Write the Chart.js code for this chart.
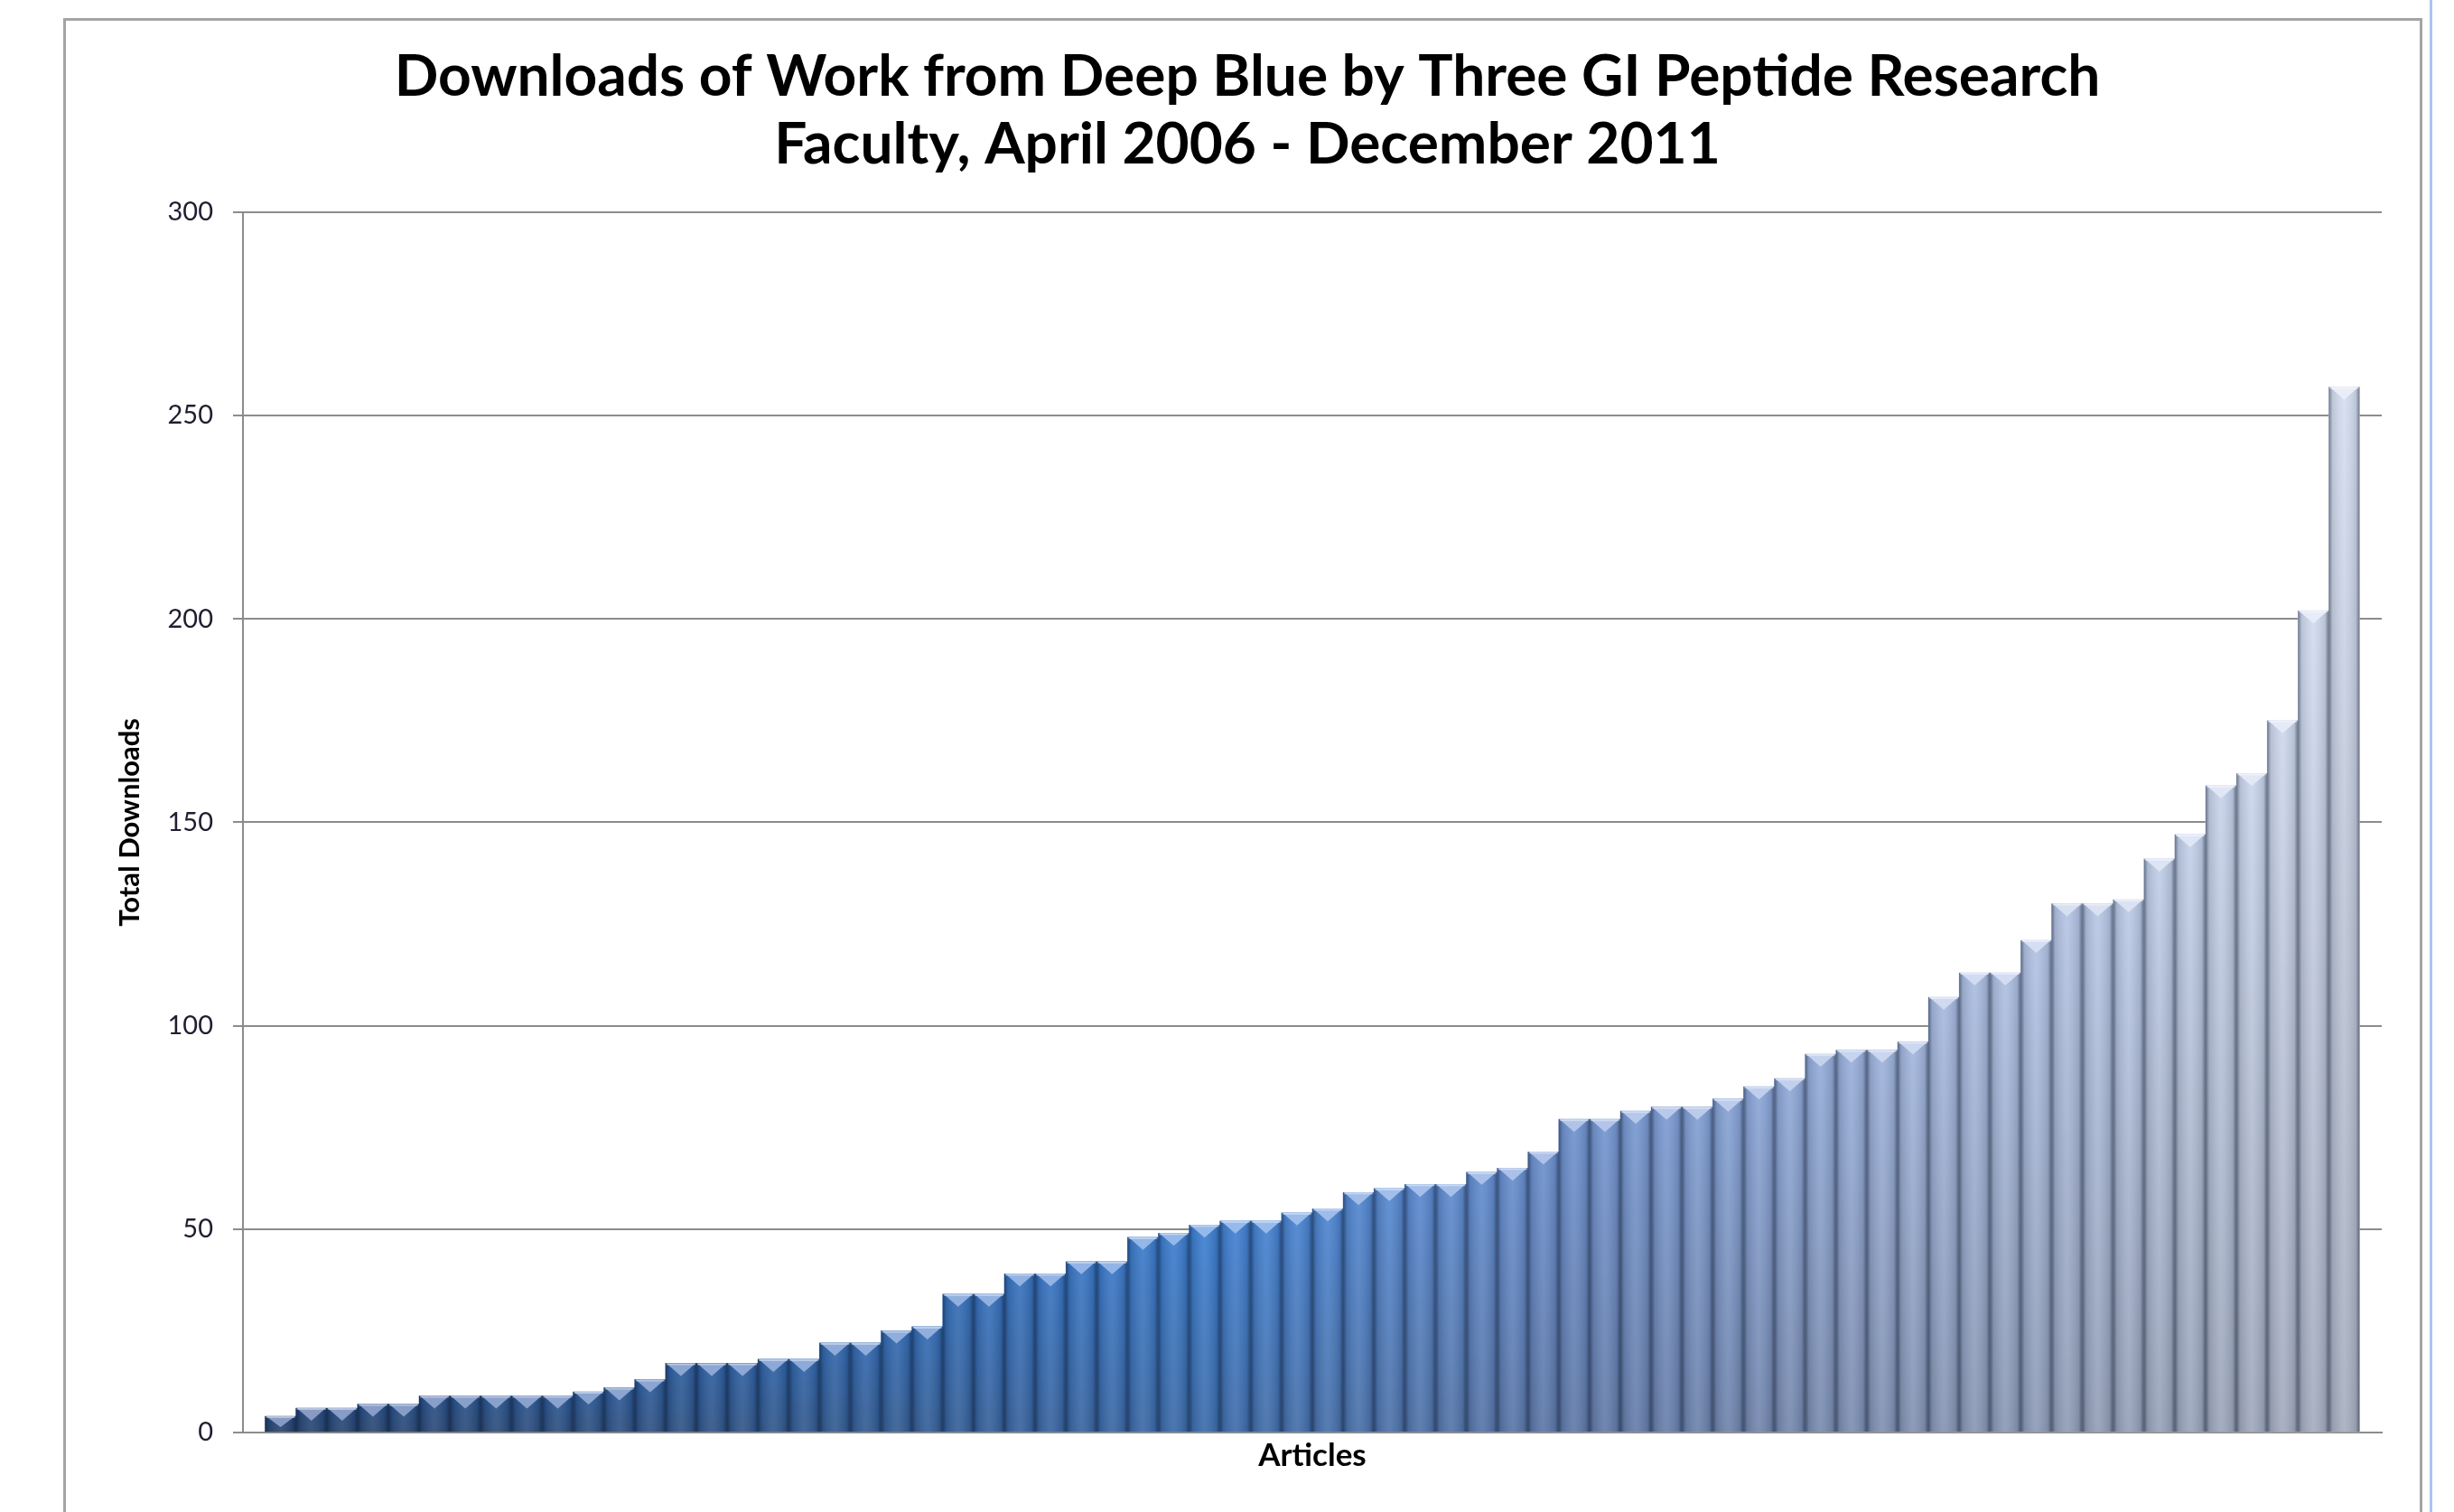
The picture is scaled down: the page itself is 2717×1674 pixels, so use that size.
<!DOCTYPE html>
<html>
<head>
    <title>Downloads of Work from Deep Blue</title>
    <script src="https://cdn.jsdelivr.net/npm/chart.js"></script>
    <style>
        html, body { margin: 0; padding: 0; background: #fff; width: 2717px; height: 1674px; overflow: hidden; }
        #frame { position: absolute; left: 70px; top: 20px; width: 2606px; height: 1700px;
                 border-left: 3px solid #a4a4a4; border-top: 3px solid #a4a4a4; border-right: 3px solid #a4a4a4; }
        #edge { position: absolute; left: 2690px; top: 0; width: 3px; height: 1674px; background: #a9c6ee; }
        #chart { position: absolute; left: 125px; top: 23px; }
    </style>
</head>
<body>
    <div id="frame"></div>
    <div id="edge"></div>
    <canvas id="chart" width="2554" height="1651"></canvas>

    <script>
        // total downloads per article, sorted ascending (68 articles)
        var downloads = [
            4, 6, 6, 7, 7, 9, 9, 9, 9, 9,
            10, 11, 13, 17, 17, 17, 18, 18, 22, 22,
            25, 26, 34, 34, 39, 39, 42, 42, 48, 49,
            51, 52, 52, 54, 55, 59, 60, 61, 61, 64,
            65, 69, 77, 77, 79, 80, 80, 82, 85, 87,
            93, 94, 94, 96, 107, 113, 113, 121, 130, 130,
            131, 141, 147, 159, 162, 175, 202, 257
        ];
        var titleLines = ['Downloads of Work from Deep Blue by Three GI Peptide Research', 'Faculty, April 2006 - December 2011'];
        var yTitle = 'Total Downloads';
        var xTitle = 'Articles';

        // left to right colour ramp of the bars (dark navy -> blue -> pale grey blue)
        var ramp = [
            [0.00, [36, 72, 124]],
            [0.25, [48, 100, 168]],
            [0.45, [62, 128, 210]],
            [0.62, [110, 145, 206]],
            [0.80, [166, 185, 222]],
            [1.00, [214, 223, 240]]
        ];
        function rampColor(t) {
            for (var k = 1; k < ramp.length; k++) {
                if (t <= ramp[k][0]) {
                    var a = ramp[k - 1], b = ramp[k];
                    var f = (t - a[0]) / (b[0] - a[0]);
                    return a[1].map(function(v, j) { return Math.round(v + (b[1][j] - v) * f); });
                }
            }
            return ramp[ramp.length - 1][1];
        }
        var barRgb = downloads.map(function(_, i) { return rampColor(i / (downloads.length - 1)); });
        var barColors = barRgb.map(function(c) { return 'rgb(' + c.join(',') + ')'; });

        // bevel look: dark edges, darker base, light chevron on top
        var bevel = {
            id: 'bevel',
            afterDatasetDraw: function(chart, args) {
                var c = chart.ctx;
                args.meta.data.forEach(function(bar, i) {
                    var p = bar.getProps(['x', 'y', 'base', 'width'], true);
                    var l = p.x - p.width / 2, r = p.x + p.width / 2, h = p.base - p.y;
                    c.save();
                    var g = c.createLinearGradient(0, p.y, 0, p.base);
                    g.addColorStop(0, 'rgba(60,64,78,0)');
                    g.addColorStop(1, 'rgba(60,64,78,0.3)');
                    c.fillStyle = g;
                    c.fillRect(l, p.y, p.width, h);

                    g = c.createLinearGradient(l, 0, r, 0);
                    g.addColorStop(0, 'rgba(10,20,40,0.5)');
                    g.addColorStop(0.12, 'rgba(10,20,40,0.12)');
                    g.addColorStop(0.5, 'rgba(255,255,255,0.08)');
                    g.addColorStop(0.88, 'rgba(10,20,40,0.12)');
                    g.addColorStop(1, 'rgba(10,20,40,0.5)');
                    c.fillStyle = g;
                    c.fillRect(l, p.y, p.width, h);

                    var ch = Math.min(14, h * 0.7);
                    var base = barRgb[i];
                    var lite = base.map(function(v, j) { return Math.round(v + (255 - v) * (j === 2 ? 0.55 : 0.45)); });
                    c.beginPath();
                    c.moveTo(l + 1, p.y);
                    c.lineTo(r - 1, p.y);
                    c.lineTo(p.x, p.y + ch);
                    c.closePath();
                    c.fillStyle = 'rgb(' + lite.join(',') + ')';
                    c.fill();
                    c.fillStyle = 'rgba(255,255,255,0.4)';
                    c.fillRect(l + 1, p.y, p.width - 2, 2);
                    c.restore();
                });
            }
        };

        var points = downloads.map(function(v, i) { return {x: i + 1, y: v}; });

        var chart = new Chart(document.getElementById('chart').getContext('2d'), {
            type: 'bar',
            data: {
                datasets: [{
                    label: yTitle,
                    data: points,
                    backgroundColor: barColors,
                    borderWidth: 0,
                    barPercentage: 1,
                    categoryPercentage: 1
                }]
            },
            options: {
                responsive: false,
                animation: false,
                devicePixelRatio: 1,
                layout: { padding: { left: 0, right: 42, top: 0, bottom: 0 } },
                plugins: {
                    legend: { display: false },
                    tooltip: { enabled: false },
                    title: {
                        display: true,
                        text: titleLines,
                        color: '#000',
                        font: { family: 'Lato', size: 64, weight: 'bold', lineHeight: 1.17 },
                        padding: { top: 25, bottom: 37 }
                    }
                },
                scales: {
                    x: {
                        type: 'linear',
                        offset: false,
                        min: -0.22,
                        max: 69.22,
                        ticks: { display: false },
                        grid: { display: false, offset: false },
                        border: { display: true, color: '#8c8c8c', width: 2 },
                        title: {
                            display: true,
                            text: xTitle,
                            color: '#000',
                            font: { family: 'Lato', size: 35, weight: 'bold' },
                            padding: { top: 0, bottom: 41 }
                        },
                        afterFit: function(scale) { scale.height = 88; }
                    },
                    y: {
                        min: 0,
                        max: 300,
                        ticks: {
                            stepSize: 50,
                            padding: 22,
                            color: '#1e1e30',
                            font: { family: 'Lato', size: 29 }
                        },
                        grid: { color: '#8c8c8c', lineWidth: 2, tickLength: 11 },
                        border: { display: true, color: '#8c8c8c', width: 2 },
                        title: {
                            display: true,
                            text: yTitle,
                            color: '#000',
                            font: { family: 'Lato', size: 31, weight: 'bold' },
                            padding: { top: 0, bottom: 0 }
                        },
                        afterFit: function(scale) { scale.width = 144; }
                    }
                }
            },
            plugins: [bevel]
        });
    </script>
</body>
</html>
